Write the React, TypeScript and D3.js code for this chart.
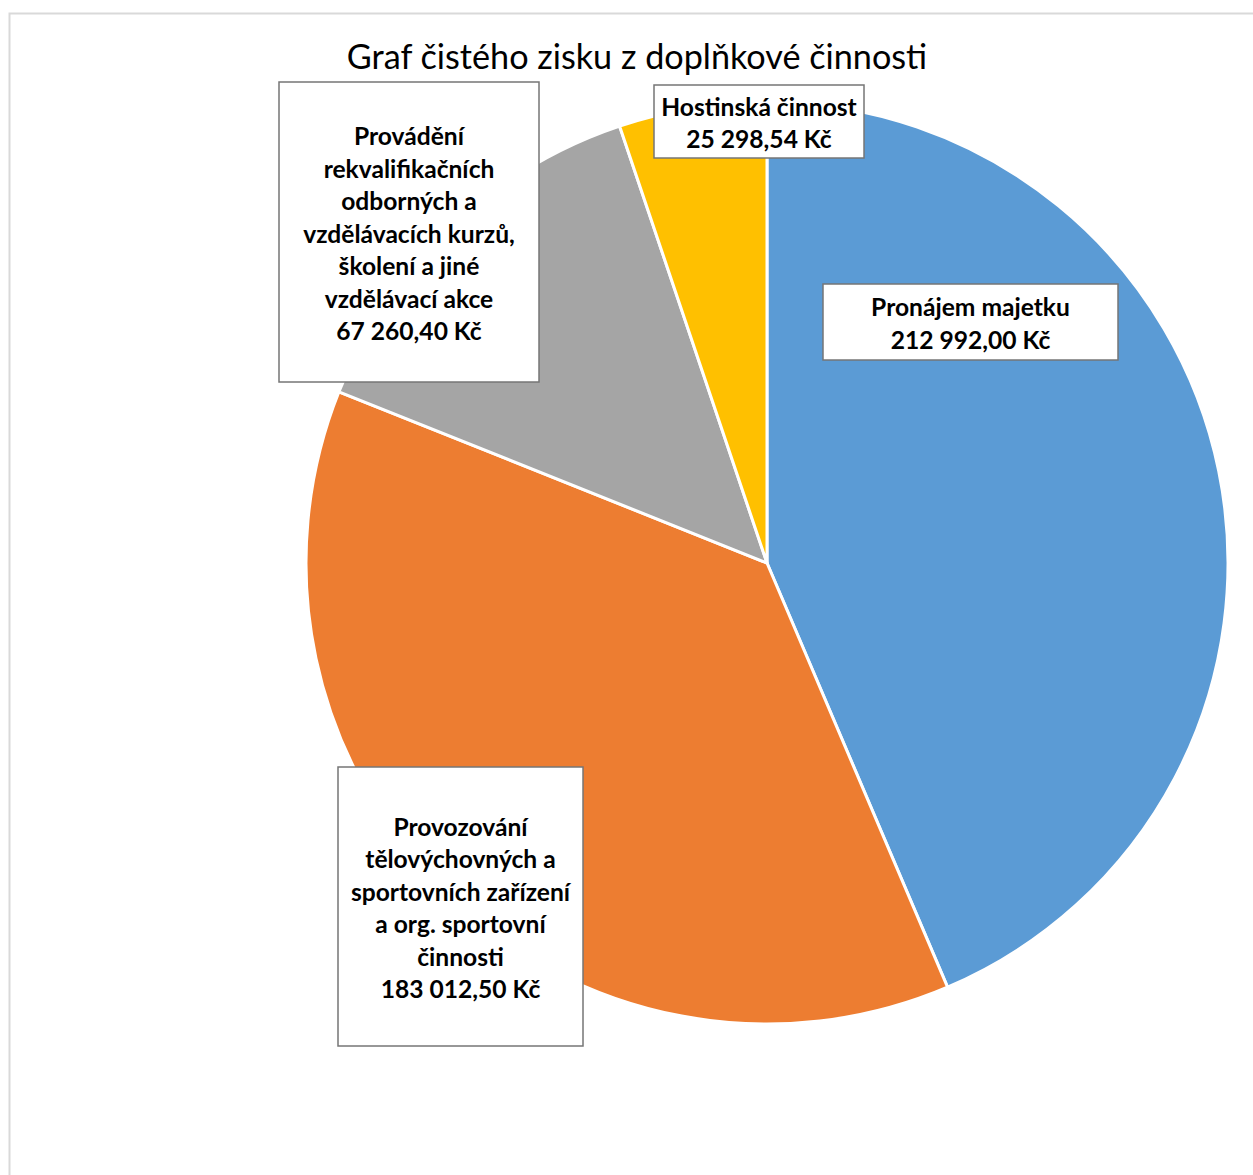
import React from "react";
import * as d3 from "d3";

const categories: string[] = [
  "Pronájem majetku",
  "Provozování tělovýchovných a sportovních zařízení a org. sportovní činnosti",
  "Provádění rekvalifikačních odborných a vzdělávacích kurzů, školení a jiné vzdělávací akce",
  "Hostinská činnost",
];
const values: number[] = [212992.0, 183012.5, 67260.4, 25298.54];
const colors: string[] = ["#5B9BD5", "#ED7D31", "#A5A5A5", "#FFC000"];
const title = "Graf čistého zisku z doplňkové činnosti";

// layout (line wrapping & label boxes)
const labelLines: string[][] = [
  ["Pronájem majetku"],
  ["Provozování", "tělovýchovných a", "sportovních zařízení", "a org. sportovní", "činnosti"],
  ["Provádění", "rekvalifikačních", "odborných a", "vzdělávacích kurzů,", "školení a jiné", "vzdělávací akce"],
  ["Hostinská činnost"],
];
const boxes = [
  { x: 823, y: 284, w: 295, h: 76 },
  { x: 338, y: 767, w: 245, h: 279 },
  { x: 279, y: 82, w: 260, h: 300 },
  { x: 654, y: 85, w: 210, h: 73 },
];

const W = 1253;
const H = 1175;
const cx = 767;
const cy = 563;
const R = 461;
const LINE = 32.5;

const czLocale = d3.formatLocale({
  decimal: ",",
  thousands: " ",
  grouping: [3],
  currency: ["", " Kč"],
});
const fmt = czLocale.format("$,.2f");

export default function App() {
  const pie = d3
    .pie<number>()
    .sort(null)
    .value((d) => d)
    .startAngle(0)
    .endAngle(2 * Math.PI);
  const arcs = pie(values);
  const arc = d3.arc<d3.PieArcDatum<number>>().innerRadius(0).outerRadius(R);

  return (
    <svg
      width={W}
      height={H}
      style={{ position: "absolute", left: 0, top: 0, background: "#fff" }}
    >
      <rect x={9.5} y={13.5} width={W + 20} height={H + 20} fill="#fff" stroke="#d9d9d9" strokeWidth={2} />
      <text
        x={637}
        y={69}
        textAnchor="middle"
        fontFamily="Lato, 'Open Sans', sans-serif"
        fontSize={34.2}
        fill="#000"
      >
        {title}
      </text>
      <g transform={`translate(${cx},${cy})`}>
        {arcs.map((a, i) => (
          <path key={i} d={arc(a) || ""} fill={colors[i]} stroke="#fff" strokeWidth={3} strokeLinejoin="round" />
        ))}
      </g>
      {arcs.map((a, i) => {
        const b = boxes[i];
        const lines = [...labelLines[i], fmt(values[i])];
        const midY = b.y + b.h / 2;
        const startY = midY - ((lines.length - 1) * LINE) / 2 + 1;
        return (
          <g key={"l" + i}>
            <rect x={b.x} y={b.y} width={b.w} height={b.h} fill="#fff" stroke="#767676" strokeWidth={1.5} />
            <text
              textAnchor="middle"
              fontFamily="Lato, 'Open Sans', sans-serif"
              fontWeight="bold"
              fontSize={24.6}
              fill="#000"
            >
              {lines.map((ln, j) => (
                <tspan key={j} x={b.x + b.w / 2} y={startY + j * LINE} dominantBaseline="central">
                  {ln}
                </tspan>
              ))}
            </text>
          </g>
        );
      })}
    </svg>
  );
}
